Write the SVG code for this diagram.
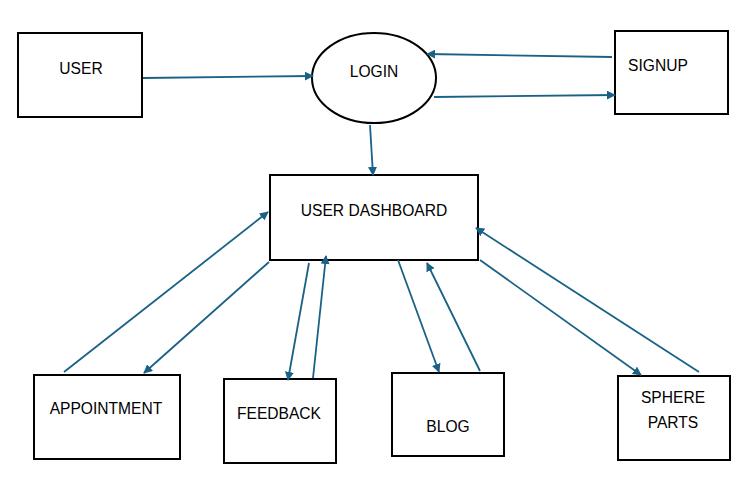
<svg xmlns="http://www.w3.org/2000/svg" width="751" height="480" viewBox="0 0 751 480">
<style>
.box{fill:#fff;stroke:#000;stroke-width:2}
.t{font-family:"Liberation Sans",Arial,sans-serif;font-size:15.6px;fill:#000;text-anchor:middle;dominant-baseline:central}
.c{stroke:#1a6186;stroke-width:1.8;fill:none;marker-end:url(#ah)}
</style>
<defs>
<marker id="ah" viewBox="0 0 10 10" refX="9" refY="5" markerWidth="5" markerHeight="5" orient="auto" markerUnits="strokeWidth">
<path d="M0,0 L10,5 L0,10 Z" fill="#1a6186"/>
</marker>
</defs>
<rect width="751" height="480" fill="#fff"/>
<g id="user"><rect class="box" x="18" y="33" width="124" height="84"/><text class="t" x="81" y="68">USER</text></g>
<g id="login"><ellipse class="box" cx="374" cy="78" rx="62" ry="45"/><text class="t" x="374" y="71">LOGIN</text></g>
<g id="signup"><rect class="box" x="615" y="31" width="113" height="83"/><text class="t" x="658" y="65">SIGNUP</text></g>
<g id="dashboard"><rect class="box" x="270" y="175" width="208" height="85"/><text class="t" x="374" y="210">USER DASHBOARD</text></g>
<g id="appointment"><rect class="box" x="34" y="375" width="146" height="84"/><text class="t" x="106" y="408">APPOINTMENT</text></g>
<g id="feedback"><rect class="box" x="224" y="379" width="112" height="84"/><text class="t" x="279" y="413">FEEDBACK</text></g>
<g id="blog"><rect class="box" x="392" y="373" width="112" height="83"/><text class="t" x="448" y="426">BLOG</text></g>
<g id="sphere"><rect class="box" x="618" y="376" width="112" height="84"/><text class="t" x="673" y="397">SPHERE</text><text class="t" x="673" y="422">PARTS</text></g>
<g id="connectors">
<line class="c" x1="143" y1="78" x2="313" y2="76"/>
<line class="c" x1="612" y1="57" x2="427" y2="54"/>
<line class="c" x1="434" y1="97" x2="615" y2="95"/>
<line class="c" x1="370" y1="125" x2="373" y2="175"/>
<line class="c" x1="64" y1="372" x2="268" y2="212"/>
<line class="c" x1="269" y1="262" x2="144" y2="373"/>
<line class="c" x1="309" y1="263" x2="288" y2="380"/>
<line class="c" x1="313" y1="378" x2="326" y2="256"/>
<line class="c" x1="398" y1="260" x2="439" y2="372"/>
<line class="c" x1="480" y1="371" x2="427" y2="263"/>
<line class="c" x1="480" y1="260" x2="641" y2="375"/>
<line class="c" x1="699" y1="372" x2="476" y2="228"/>
</g>
</svg>
